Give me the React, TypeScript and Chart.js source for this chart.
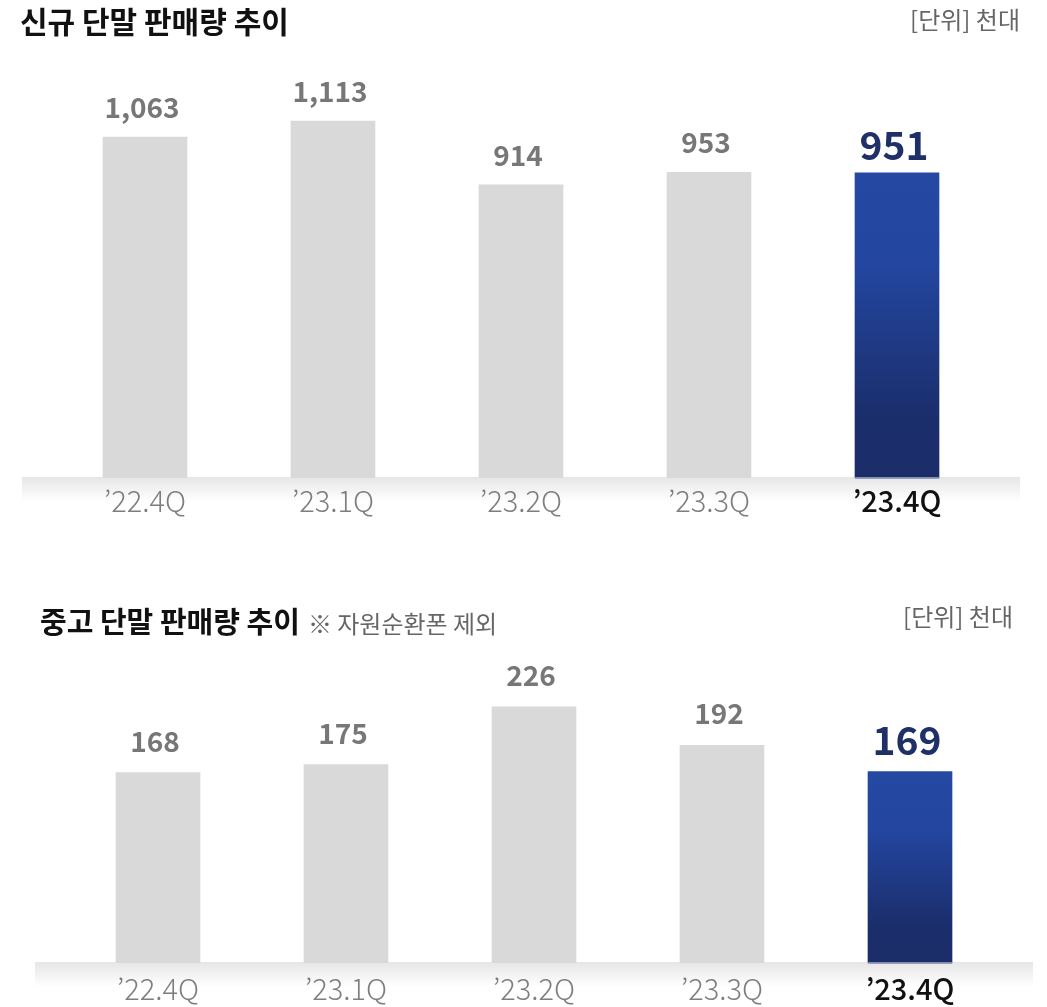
import React, { useEffect, useRef } from "react";
import { Chart, registerables } from "chart.js";

Chart.register(...registerables);

const categories = ["’22.4Q", "’23.1Q", "’23.2Q", "’23.3Q", "’23.4Q"];
const newSales = [1063, 1113, 914, 953, 951];
const usedSales = [168, 175, 226, 192, 169];
const newTitle = "신규 단말 판매량 추이";
const usedTitle = "중고 단말 판매량 추이";
const usedNote = "※ 자원순환폰 제외";
const unitText = "[단위] 천대";

const FONT = "'Noto Sans CJK KR', 'Noto Sans', sans-serif";
const GRAY_BAR = "#d9d9d9";
const LABEL_GRAY = "#777777";
const NAVY = "#1f3068";

const bandPlugin = {
  id: "band",
  beforeDraw(chart: any) {
    const { ctx, chartArea } = chart;
    if (!chartArea) return;
    const x0 = chartArea.left - 29;
    const x1 = chartArea.right + 29;
    const y0 = chartArea.bottom - 1;
    const h = 25;
    const g = ctx.createLinearGradient(0, y0, 0, y0 + h);
    g.addColorStop(0, "#e6e6e6");
    g.addColorStop(1, "rgba(255,255,255,1)");
    ctx.save();
    ctx.fillStyle = g;
    ctx.fillRect(x0, y0, x1 - x0, h);
    ctx.restore();
  },
};

const labelPlugin = {
  id: "valueLabels",
  afterDatasetsDraw(chart: any, _args: any, opts: any) {
    const { ctx } = chart;
    const meta = chart.getDatasetMeta(0);
    const data = chart.data.datasets[0].data as number[];
    const last = data.length - 1;
    ctx.save();
    ctx.textAlign = "center";
    ctx.textBaseline = "alphabetic";
    meta.data.forEach((bar: any, i: number) => {
      const isLast = i === last;
      if (isLast) {
        ctx.fillStyle = "rgba(140,152,185,0.9)";
        ctx.fillRect(bar.x - bar.width / 2, chart.chartArea.bottom - 1, bar.width, 2);
      }
      ctx.font = isLast ? `700 39px ${FONT}` : `700 28px ${FONT}`;
      ctx.fillStyle = isLast ? NAVY : LABEL_GRAY;
      const off = isLast ? opts.navyOffset : opts.grayOffset;
      ctx.fillText(data[i].toLocaleString("en-US"), bar.x - 3, bar.y - off);
    });
    ctx.restore();
  },
};

function barColor(context: any) {
  const chart = context.chart;
  const n = chart.data.labels.length;
  if (context.dataIndex !== n - 1) return GRAY_BAR;
  const area = chart.chartArea;
  if (!area) return "#2549a3";
  const yScale = chart.scales.y;
  const top = yScale.getPixelForValue(context.raw);
  const bottom = area.bottom;
  const g = chart.ctx.createLinearGradient(0, top, 0, bottom);
  g.addColorStop(0, "#2549a3");
  g.addColorStop(0.3, "#2346a0");
  g.addColorStop(0.8, "#1b2e6c");
  g.addColorStop(1, "#1b2e6a");
  return g;
}

type BarChartProps = {
  values: number[];
  width: number;
  height: number;
  max: number;
  padTop: number;
  padLeft: number;
  padRight: number;
  axisHeight: number;
  tickPad: number;
  grayOffset: number;
  navyOffset: number;
};

function BarChart(p: BarChartProps) {
  const ref = useRef<HTMLCanvasElement | null>(null);
  useEffect(() => {
    if (!ref.current) return;
    const chart = new Chart(ref.current, {
      type: "bar",
      data: {
        labels: categories,
        datasets: [
          {
            data: p.values,
            backgroundColor: barColor,
            borderWidth: 0,
            barThickness: 84,
          },
        ],
      },
      options: {
        animation: false,
        responsive: false,
        devicePixelRatio: 1,
        layout: {
          padding: { top: p.padTop, left: p.padLeft, right: p.padRight, bottom: 0 },
        },
        plugins: {
          legend: { display: false },
          tooltip: { enabled: false },
          title: { display: false },
          valueLabels: { grayOffset: p.grayOffset, navyOffset: p.navyOffset },
        } as any,
        scales: {
          x: {
            grid: { display: false, drawTicks: false },
            border: { display: false },
            ticks: {
              padding: p.tickPad,
              color: (c: any) => (c.index === categories.length - 1 ? "#111111" : "#7e7e7e"),
              font: (c: any) => ({
                family: FONT,
                size: 29,
                weight: c.index === categories.length - 1 ? 500 : 300,
              }),
            },
            afterFit(scale: any) {
              scale.height = p.axisHeight;
            },
          },
          y: {
            display: false,
            min: 0,
            max: p.max,
          },
        },
      },
      plugins: [bandPlugin, labelPlugin],
    });
    return () => chart.destroy();
  }, []);
  return <canvas ref={ref} width={p.width} height={p.height} style={{ display: "block" }} />;
}

const abs = (o: React.CSSProperties): React.CSSProperties => ({
  position: "absolute",
  whiteSpace: "nowrap",
  lineHeight: 1,
  fontFamily: FONT,
  ...o,
});

export default function App() {
  return (
    <div
      style={{
        position: "absolute",
        left: 0,
        top: 0,
        width: 1047,
        height: 1007,
        background: "#ffffff",
        overflow: "hidden",
      }}
    >
      <div style={abs({ left: 0, top: 0 })}>
        <BarChart
          values={newSales}
          width={1047}
          height={540}
          max={1300}
          padTop={61}
          padLeft={51}
          padRight={56}
          axisHeight={62}
          tickPad={6}
          grayOffset={19}
          navyOffset={13}
        />
      </div>
      <div style={abs({ left: 0, top: 540 })}>
        <BarChart
          values={usedSales}
          width={1047}
          height={467}
          max={300}
          padTop={83}
          padLeft={64}
          padRight={43}
          axisHeight={44}
          tickPad={9}
          grayOffset={21}
          navyOffset={16}
        />
      </div>
      <div style={abs({ left: 20, top: 5, fontSize: 30, fontWeight: 700, color: "#111" })}>{newTitle}</div>
      <div style={abs({ right: 27, top: 7, fontSize: 24, fontWeight: 400, color: "#666" })}>{unitText}</div>
      <div style={abs({ left: 40, top: 606, fontSize: 29, fontWeight: 700, color: "#111" })}>
        {usedTitle}
        <span style={{ fontSize: 24, fontWeight: 400, color: "#666", marginLeft: 8 }}>{usedNote}</span>
      </div>
      <div style={abs({ right: 34, top: 604, fontSize: 24, fontWeight: 400, color: "#666" })}>{unitText}</div>
    </div>
  );
}
